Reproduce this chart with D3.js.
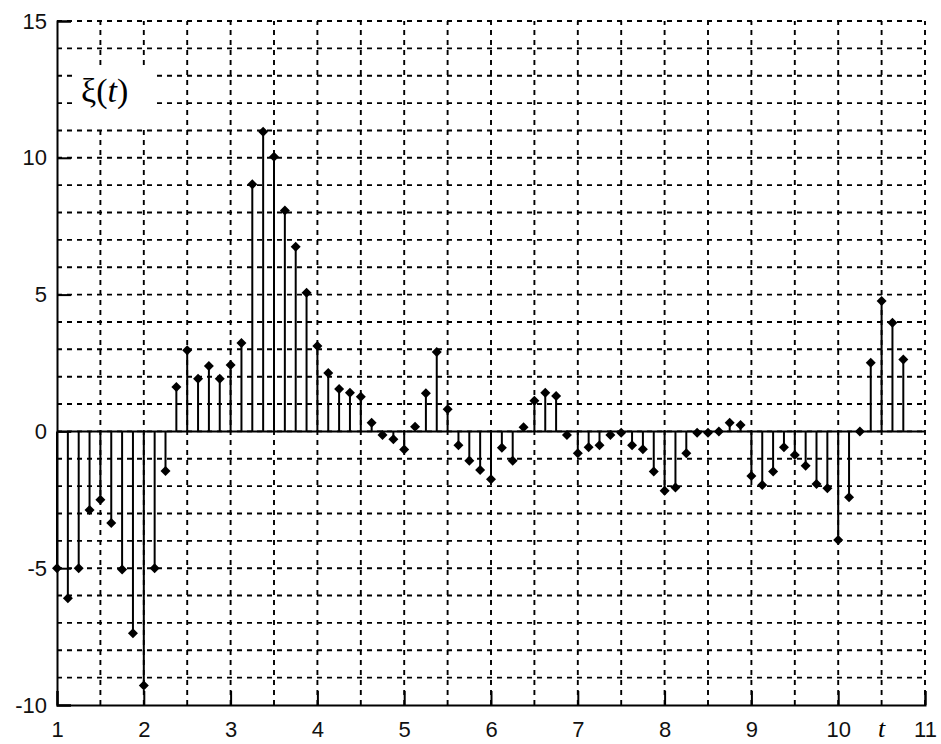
<!DOCTYPE html>
<html>
<head>
<meta charset="utf-8">
<script src="https://cdn.jsdelivr.net/npm/d3@7"></script>
<style>
  body { margin: 0; background: #fff; }
</style>
</head>
<body>
<div id="myDataVis"></div>
<script>
// sample times
var tValues = [1, 1.125, 1.25, 1.375, 1.5, 1.625, 1.75, 1.875,
    2, 2.125, 2.25, 2.375, 2.5, 2.625, 2.75, 2.875,
    3, 3.125, 3.25, 3.375, 3.5, 3.625, 3.75, 3.875,
    4, 4.125, 4.25, 4.375, 4.5, 4.625, 4.75, 4.875,
    5, 5.125, 5.25, 5.375, 5.5, 5.625, 5.75, 5.875,
    6, 6.125, 6.25, 6.375, 6.5, 6.625, 6.75, 6.875,
    7, 7.125, 7.25, 7.375, 7.5, 7.625, 7.75, 7.875,
    8, 8.125, 8.25, 8.375, 8.5, 8.625, 8.75, 8.875,
    9, 9.125, 9.25, 9.375, 9.5, 9.625, 9.75, 9.875,
    10, 10.125, 10.25, 10.375, 10.5, 10.625, 10.75];
// xi(t) values
var xiValues = [-5, -6.1, -5, -2.87, -2.5, -3.35, -5.05, -7.38,
    -9.29, -5, -1.45, 1.62, 2.97, 1.92, 2.39, 1.92,
    2.43, 3.23, 9.03, 10.95, 10.04, 8.07, 6.75, 5.07,
    3.12, 2.13, 1.55, 1.41, 1.27, 0.32, -0.13, -0.29,
    -0.66, 0.17, 1.39, 2.9, 0.81, -0.51, -1.07, -1.41,
    -1.75, -0.6, -1.07, 0.15, 1.12, 1.41, 1.29, -0.13,
    -0.8, -0.58, -0.51, -0.13, -0.05, -0.51, -0.65, -1.47,
    -2.17, -2.05, -0.8, -0.05, -0.05, 0, 0.32, 0.23,
    -1.63, -1.96, -1.47, -0.58, -0.86, -1.26, -1.92, -2.08,
    -3.97, -2.41, 0, 2.51, 4.77, 3.97, 2.63];

var xTicks = [1, 2, 3, 4, 5, 6, 7, 8, 9, 10, 11];
var yTicks = [-10, -5, 0, 5, 10, 15];
var xGrid = [1.5, 2, 2.5, 3, 3.5, 4, 4.5, 5, 5.5, 6, 6.5, 7, 7.5, 8, 8.5, 9, 9.5, 10, 10.5, 11];
var yGrid = [-9, -8, -7, -6, -5, -4, -3, -2, -1, 0, 1, 2, 3, 4, 5, 6, 7, 8, 9, 10, 11, 12, 13, 14, 15];

document.addEventListener('DOMContentLoaded', function () {
    drawStemChart();
});

function drawStemChart() {
    var width = 941, height = 744;
    var margin = {top: 21, right: 16, bottom: 39, left: 57};

    var svg = d3.select('#myDataVis')
        .append('svg')
        .attr('width', width)
        .attr('height', height);

    var x = d3.scaleLinear()
        .domain([1, 11])
        .range([margin.left, width - margin.right]);
    var y = d3.scaleLinear()
        .domain([-10, 15])
        .range([height - margin.bottom, margin.top]);

    // dashed grid
    svg.append('g')
        .selectAll('line')
        .data(xGrid)
        .enter()
        .append('line')
            .attr('x1', function(d) { return x(d); })
            .attr('x2', function(d) { return x(d); })
            .attr('y1', y(-10))
            .attr('y2', y(15))
            .attr('stroke', '#000')
            .attr('stroke-width', 1.9)
            .attr('stroke-dasharray', '5,5');
    svg.append('g')
        .selectAll('line')
        .data(yGrid)
        .enter()
        .append('line')
            .attr('x1', x(1))
            .attr('x2', x(11))
            .attr('y1', function(d) { return y(d); })
            .attr('y2', function(d) { return y(d); })
            .attr('stroke', '#000')
            .attr('stroke-width', 1.9)
            .attr('stroke-dasharray', '5,5');

    // label box for xi(t)
    svg.append('rect')
        .attr('x', 75)
        .attr('y', 66)
        .attr('width', 77)
        .attr('height', 60)
        .attr('fill', '#fff');
    var lab = svg.append('text')
        .attr('x', 81)
        .attr('y', 102)
        .style('font-family', '"Liberation Serif", "Times New Roman", serif')
        .style('font-size', '34px')
        .attr('fill', '#000');
    lab.append('tspan').text('ξ(');
    lab.append('tspan').style('font-style', 'italic').text('t');
    lab.append('tspan').text(')');

    // axes
    var xAxis = svg.append('g')
        .attr('transform', 'translate(0,' + y(-10) + ')')
        .call(d3.axisBottom(x).tickValues(xTicks).tickSize(-14).tickPadding(16).tickFormat(function(d) { return String(d); }));
    var yAxis = svg.append('g')
        .attr('transform', 'translate(' + x(1) + ',0)')
        .call(d3.axisLeft(y).tickValues(yTicks).tickSize(-14).tickPadding(10).tickFormat(function(d) { return String(d); }));
    [xAxis, yAxis].forEach(function(a) {
        a.select('.domain').attr('stroke', '#000').attr('stroke-width', 2);
        a.selectAll('.tick line').attr('stroke', '#000').attr('stroke-width', 2);
        a.selectAll('.tick text')
            .style('font-family', '"Liberation Sans", Arial, sans-serif')
            .style('font-size', '22px')
            .attr('fill', '#111');
    });

    // italic t between 10 and 11
    svg.append('text')
        .attr('x', x(10.5))
        .attr('y', y(-10) + 32)
        .attr('text-anchor', 'middle')
        .style('font-family', '"Liberation Serif", "Times New Roman", serif')
        .style('font-style', 'italic')
        .style('font-size', '26px')
        .text('t');

    // zero line
    svg.append('line')
        .attr('x1', x(1))
        .attr('x2', x(11))
        .attr('y1', y(0))
        .attr('y2', y(0))
        .attr('stroke', '#000')
        .attr('stroke-width', 2);

    // stems
    svg.append('g')
        .selectAll('line')
        .data(tValues)
        .enter()
        .append('line')
            .attr('x1', function(d) { return x(d); })
            .attr('x2', function(d) { return x(d); })
            .attr('y1', y(0))
            .attr('y2', function(d, i) { return y(xiValues[i]); })
            .attr('stroke', '#000')
            .attr('stroke-width', 2);

    // markers
    svg.append('g')
        .selectAll('path')
        .data(tValues)
        .enter()
        .append('path')
            .attr('transform', function(d, i) { return 'translate(' + x(d) + ',' + y(xiValues[i]) + ')'; })
            .attr('d', 'M0,-5L5,0L0,5L-5,0Z')
            .attr('fill', '#000');
}
</script>
</body>
</html>
